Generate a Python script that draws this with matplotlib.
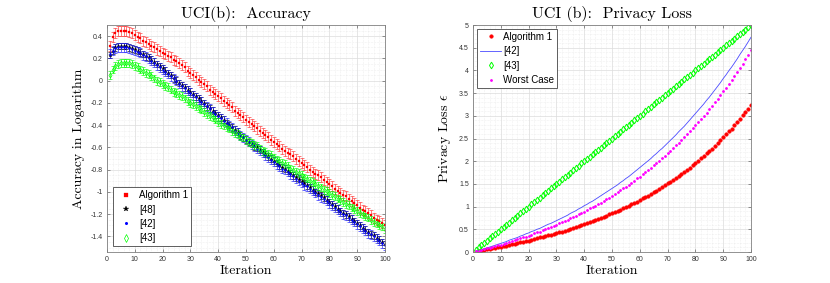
import matplotlib
matplotlib.use('Agg')
import matplotlib.pyplot as plt
from matplotlib.ticker import MultipleLocator, AutoMinorLocator, FuncFormatter
import numpy as np

# Fonts: CM-like serif for titles/labels, Helvetica-like sans for ticks/legend
plt.rcParams['mathtext.fontset'] = 'cm'
plt.rcParams['axes.unicode_minus'] = False
SERIF = 'cmr10'
SANS = 'Liberation Sans'
TITLE_FONT_SIZE = 11.5
LABEL_FONT_SIZE = 10
TICK_FONT_SIZE = 5
LEGEND_FONT_SIZE = 7

# ---------------- data ----------------
iterations = np.arange(1, 101)

# left panel: accuracy (log) with error bars
acc_alg1 = [0.31, 0.39, 0.43, 0.45, 0.45, 0.45, 0.45, 0.44, 0.43, 0.41,
            0.39, 0.38, 0.36, 0.35, 0.33, 0.31, 0.30, 0.28, 0.27, 0.25,
            0.24, 0.22, 0.21, 0.19, 0.18, 0.16, 0.14, 0.12, 0.09, 0.07,
            0.05, 0.03, 0.01, -0.01, -0.03, -0.05, -0.08, -0.10, -0.12, -0.14,
            -0.16, -0.18, -0.20, -0.22, -0.24, -0.27, -0.29, -0.31, -0.33, -0.35,
            -0.37, -0.39, -0.41, -0.43, -0.45, -0.47, -0.49, -0.51, -0.53, -0.55,
            -0.57, -0.59, -0.61, -0.63, -0.65, -0.66, -0.68, -0.70, -0.72, -0.74,
            -0.76, -0.78, -0.80, -0.82, -0.84, -0.85, -0.87, -0.89, -0.91, -0.93,
            -0.95, -0.97, -0.99, -1.01, -1.03, -1.04, -1.06, -1.08, -1.10, -1.12,
            -1.14, -1.16, -1.17, -1.19, -1.21, -1.23, -1.25, -1.26, -1.28, -1.30]
acc_48 = [0.23, 0.27, 0.30, 0.31, 0.31, 0.31, 0.31, 0.30, 0.29, 0.28,
          0.27, 0.25, 0.24, 0.22, 0.21, 0.19, 0.17, 0.15, 0.13, 0.11,
          0.09, 0.07, 0.05, 0.02, 0.00, -0.02, -0.04, -0.06, -0.08, -0.10,
          -0.12, -0.14, -0.16, -0.18, -0.20, -0.23, -0.25, -0.27, -0.29, -0.31,
          -0.33, -0.35, -0.38, -0.40, -0.42, -0.44, -0.46, -0.49, -0.51, -0.53,
          -0.55, -0.57, -0.59, -0.60, -0.62, -0.64, -0.66, -0.68, -0.70, -0.72,
          -0.74, -0.76, -0.78, -0.79, -0.81, -0.83, -0.85, -0.87, -0.88, -0.90,
          -0.92, -0.94, -0.96, -0.98, -1.00, -1.01, -1.03, -1.05, -1.07, -1.09,
          -1.11, -1.13, -1.15, -1.17, -1.19, -1.20, -1.22, -1.24, -1.26, -1.28,
          -1.30, -1.32, -1.34, -1.36, -1.38, -1.39, -1.41, -1.43, -1.45, -1.47]
acc_42 = [0.24, 0.27, 0.29, 0.30, 0.30, 0.30, 0.30, 0.29, 0.28, 0.27,
          0.26, 0.25, 0.23, 0.22, 0.20, 0.18, 0.16, 0.14, 0.12, 0.10,
          0.08, 0.06, 0.04, 0.02, 0.00, -0.03, -0.05, -0.07, -0.09, -0.11,
          -0.13, -0.15, -0.17, -0.19, -0.21, -0.23, -0.25, -0.28, -0.30, -0.32,
          -0.34, -0.36, -0.38, -0.40, -0.42, -0.45, -0.47, -0.49, -0.51, -0.53,
          -0.55, -0.57, -0.59, -0.61, -0.63, -0.65, -0.67, -0.69, -0.71, -0.73,
          -0.75, -0.77, -0.79, -0.80, -0.82, -0.84, -0.86, -0.88, -0.90, -0.92,
          -0.94, -0.95, -0.97, -0.99, -1.01, -1.03, -1.05, -1.06, -1.08, -1.10,
          -1.12, -1.14, -1.16, -1.18, -1.20, -1.21, -1.23, -1.25, -1.27, -1.29,
          -1.31, -1.33, -1.35, -1.37, -1.38, -1.40, -1.42, -1.44, -1.46, -1.48]
acc_43 = [0.05, 0.10, 0.13, 0.15, 0.16, 0.16, 0.16, 0.16, 0.15, 0.13,
          0.12, 0.10, 0.09, 0.07, 0.06, 0.04, 0.02, 0.00, -0.01, -0.03,
          -0.05, -0.06, -0.08, -0.10, -0.11, -0.13, -0.14, -0.16, -0.18, -0.20,
          -0.21, -0.23, -0.25, -0.26, -0.28, -0.30, -0.32, -0.33, -0.35, -0.37,
          -0.39, -0.40, -0.42, -0.43, -0.45, -0.47, -0.48, -0.50, -0.51, -0.53,
          -0.55, -0.56, -0.58, -0.59, -0.61, -0.63, -0.64, -0.66, -0.67, -0.69,
          -0.71, -0.72, -0.74, -0.75, -0.77, -0.79, -0.80, -0.82, -0.83, -0.85,
          -0.87, -0.88, -0.90, -0.91, -0.93, -0.95, -0.96, -0.98, -0.99, -1.01,
          -1.03, -1.04, -1.06, -1.07, -1.09, -1.11, -1.12, -1.14, -1.15, -1.17,
          -1.19, -1.20, -1.22, -1.23, -1.25, -1.27, -1.28, -1.30, -1.31, -1.33]
err_alg1 = 0.045
err_48 = 0.03
err_42 = 0.04
err_43 = 0.035

# right panel: privacy loss
eps_alg1 = [0.01, 0.02, 0.03, 0.04, 0.06, 0.07, 0.08, 0.09, 0.10, 0.12,
            0.13, 0.14, 0.16, 0.17, 0.18, 0.20, 0.21, 0.23, 0.24, 0.25,
            0.27, 0.28, 0.30, 0.32, 0.33, 0.35, 0.37, 0.38, 0.40, 0.42,
            0.44, 0.45, 0.47, 0.49, 0.51, 0.53, 0.55, 0.57, 0.59, 0.61,
            0.63, 0.66, 0.68, 0.70, 0.73, 0.75, 0.77, 0.80, 0.83, 0.85,
            0.88, 0.90, 0.93, 0.96, 0.99, 1.02, 1.05, 1.08, 1.11, 1.14,
            1.18, 1.21, 1.24, 1.28, 1.32, 1.35, 1.39, 1.43, 1.47, 1.51,
            1.55, 1.59, 1.63, 1.67, 1.72, 1.77, 1.81, 1.86, 1.91, 1.96,
            2.01, 2.06, 2.11, 2.17, 2.23, 2.28, 2.34, 2.40, 2.46, 2.53,
            2.59, 2.66, 2.72, 2.79, 2.86, 2.93, 3.01, 3.08, 3.16, 3.24]
eps_42 = [0.02, 0.04, 0.05, 0.07, 0.09, 0.11, 0.13, 0.15, 0.17, 0.19,
          0.21, 0.23, 0.26, 0.28, 0.30, 0.32, 0.35, 0.37, 0.40, 0.42,
          0.45, 0.47, 0.50, 0.52, 0.55, 0.58, 0.61, 0.63, 0.66, 0.69,
          0.72, 0.75, 0.78, 0.81, 0.85, 0.88, 0.91, 0.95, 0.98, 1.02,
          1.05, 1.09, 1.12, 1.16, 1.20, 1.24, 1.28, 1.32, 1.36, 1.40,
          1.44, 1.48, 1.53, 1.57, 1.62, 1.66, 1.71, 1.76, 1.81, 1.86,
          1.91, 1.96, 2.01, 2.06, 2.12, 2.17, 2.23, 2.28, 2.34, 2.40,
          2.46, 2.52, 2.58, 2.65, 2.71, 2.77, 2.84, 2.91, 2.98, 3.05,
          3.12, 3.19, 3.26, 3.34, 3.41, 3.49, 3.57, 3.65, 3.73, 3.82,
          3.90, 3.99, 4.07, 4.16, 4.25, 4.35, 4.44, 4.53, 4.63, 4.73]
eps_43 = [0.05, 0.10, 0.15, 0.20, 0.25, 0.30, 0.35, 0.40, 0.45, 0.50,
          0.55, 0.60, 0.65, 0.70, 0.75, 0.80, 0.85, 0.90, 0.95, 1.00,
          1.05, 1.10, 1.15, 1.20, 1.25, 1.30, 1.35, 1.40, 1.45, 1.50,
          1.55, 1.60, 1.65, 1.70, 1.75, 1.80, 1.85, 1.90, 1.95, 2.00,
          2.05, 2.10, 2.15, 2.20, 2.25, 2.30, 2.35, 2.40, 2.45, 2.50,
          2.55, 2.60, 2.65, 2.70, 2.75, 2.80, 2.85, 2.90, 2.95, 3.00,
          3.05, 3.10, 3.15, 3.20, 3.25, 3.30, 3.35, 3.40, 3.45, 3.50,
          3.55, 3.60, 3.65, 3.70, 3.75, 3.80, 3.85, 3.90, 3.95, 4.00,
          4.05, 4.10, 4.15, 4.20, 4.25, 4.30, 4.35, 4.40, 4.45, 4.50,
          4.55, 4.60, 4.65, 4.70, 4.75, 4.80, 4.85, 4.90, 4.95, 5.00]
eps_worst = [0.02, 0.03, 0.05, 0.06, 0.08, 0.09, 0.11, 0.13, 0.15, 0.16,
             0.18, 0.20, 0.22, 0.24, 0.26, 0.28, 0.30, 0.32, 0.34, 0.36,
             0.38, 0.41, 0.43, 0.45, 0.48, 0.50, 0.52, 0.55, 0.58, 0.60,
             0.63, 0.66, 0.68, 0.71, 0.74, 0.77, 0.80, 0.83, 0.86, 0.89,
             0.92, 0.96, 0.99, 1.02, 1.06, 1.09, 1.13, 1.17, 1.20, 1.24,
             1.28, 1.32, 1.36, 1.40, 1.44, 1.48, 1.53, 1.57, 1.62, 1.66,
             1.71, 1.76, 1.81, 1.86, 1.91, 1.96, 2.01, 2.06, 2.12, 2.17,
             2.23, 2.29, 2.35, 2.41, 2.47, 2.53, 2.59, 2.66, 2.73, 2.79,
             2.86, 2.93, 3.00, 3.07, 3.15, 3.22, 3.30, 3.38, 3.46, 3.54,
             3.62, 3.71, 3.79, 3.88, 3.97, 4.06, 4.15, 4.25, 4.34, 4.44]

# ---------------- figure ----------------
fig = plt.figure(figsize=(8.3, 2.83), dpi=100)
ax1 = fig.add_axes([0.1289, 0.1095, 0.3349, 0.8021])
ax2 = fig.add_axes([0.5699, 0.1095, 0.3349, 0.8021])

fmt = FuncFormatter(lambda v, p: f'{round(v, 4) + 0:g}')


def style_axes(ax, ystep, yminor):
    ax.xaxis.set_major_locator(MultipleLocator(10))
    ax.xaxis.set_minor_locator(AutoMinorLocator(5))
    ax.yaxis.set_major_locator(MultipleLocator(ystep))
    ax.yaxis.set_minor_locator(AutoMinorLocator(yminor))
    ax.xaxis.set_major_formatter(fmt)
    ax.yaxis.set_major_formatter(fmt)
    ax.grid(which='major', color='#dcdcdc', linewidth=0.5)
    ax.grid(which='minor', color='#e2e2e2', linewidth=0.4, linestyle=':')
    ax.set_axisbelow(True)
    ax.tick_params(which='major', direction='in', top=True, right=True,
                   length=2.5, width=0.5, color='#666666',
                   labelsize=TICK_FONT_SIZE, labelcolor='#333333', pad=3)
    ax.tick_params(which='minor', length=0)
    for lab in ax.get_xticklabels() + ax.get_yticklabels():
        lab.set_fontfamily(SANS)
    for sp in ax.spines.values():
        sp.set_color('#808080')
        sp.set_linewidth(0.6)


# left panel
eb_style = dict(fmt='none', elinewidth=0.45, capsize=1.3, capthick=0.45)
ax1.errorbar(iterations, acc_alg1, yerr=err_alg1, ecolor='#ff3030', **eb_style)
ax1.errorbar(iterations, acc_48, yerr=err_48, ecolor='#000000', **eb_style)
ax1.errorbar(iterations, acc_42, yerr=err_42, ecolor='#2020ff', **eb_style)
ax1.errorbar(iterations, acc_43, yerr=err_43, ecolor='#00ff00', **eb_style)
ax1.plot(iterations, acc_alg1, 's', color='#ff0000', markersize=1.8,
         markeredgewidth=0.2, label='Algorithm 1')
ax1.plot(iterations, acc_48, '*', color='#000000', markersize=2.8,
         markeredgewidth=0.2, label='[48]')
ax1.plot(iterations, acc_42, '.', color='#0000ff', markersize=1.6,
         label='[42]')
ax1.plot(iterations, acc_43, 'd', color='#00ff00', markerfacecolor='none',
         markersize=2.6, markeredgewidth=0.5, label='[43]')
ax1.set_xlim(0, 100)
ax1.set_ylim(-1.54, 0.5)
style_axes(ax1, 0.2, 4)
ax1.set_title('UCI(b):  Accuracy', fontfamily=SERIF, fontsize=TITLE_FONT_SIZE, pad=5)
ax1.set_xlabel('Iteration', fontfamily=SERIF, fontsize=LABEL_FONT_SIZE, labelpad=1)
ax1.set_ylabel('Accuracy in Logarithm', fontfamily=SERIF, fontsize=LABEL_FONT_SIZE,
               labelpad=4)
leg1 = ax1.legend(loc='lower left', prop={'family': SANS, 'size': LEGEND_FONT_SIZE},
                  handlelength=2.2, handletextpad=0.2, labelspacing=0.45,
                  borderpad=0.3, borderaxespad=0.6, fancybox=False,
                  edgecolor='#444444', framealpha=1, markerscale=1.5)
leg1.get_frame().set_linewidth(0.6)

# right panel
ax2.plot(iterations, eps_alg1, 'o', color='#ff0000', markersize=2.6,
         markeredgewidth=0.3, label='Algorithm 1')
ax2.plot(iterations, eps_42, '-', color='#4a4aff', linewidth=0.6, label='[42]')
ax2.plot(iterations, eps_43, 'd', color='#00ff00', markerfacecolor='none',
         markersize=3.4, markeredgewidth=0.7, label='[43]')
ax2.plot(iterations, eps_worst, '.', color='#ff00ff', markersize=2.0,
         label='Worst Case')
ax2.set_xlim(0, 100)
ax2.set_ylim(0, 5)
style_axes(ax2, 0.5, 5)
ax2.set_title('UCI (b):  Privacy Loss', fontfamily=SERIF, fontsize=TITLE_FONT_SIZE, pad=5)
ax2.set_xlabel('Iteration', fontfamily=SERIF, fontsize=LABEL_FONT_SIZE, labelpad=1)
ax2.set_ylabel(r'Privacy Loss $\epsilon$', fontfamily=SERIF, fontsize=LABEL_FONT_SIZE,
               labelpad=4)
leg2 = ax2.legend(loc='upper left', prop={'family': SANS, 'size': LEGEND_FONT_SIZE},
                  handlelength=2.2, handletextpad=0.2, labelspacing=0.45,
                  borderpad=0.3, borderaxespad=0.4, fancybox=False,
                  edgecolor='#444444', framealpha=1)
leg2.get_frame().set_linewidth(0.6)

fig.savefig('out.png', dpi=100)
